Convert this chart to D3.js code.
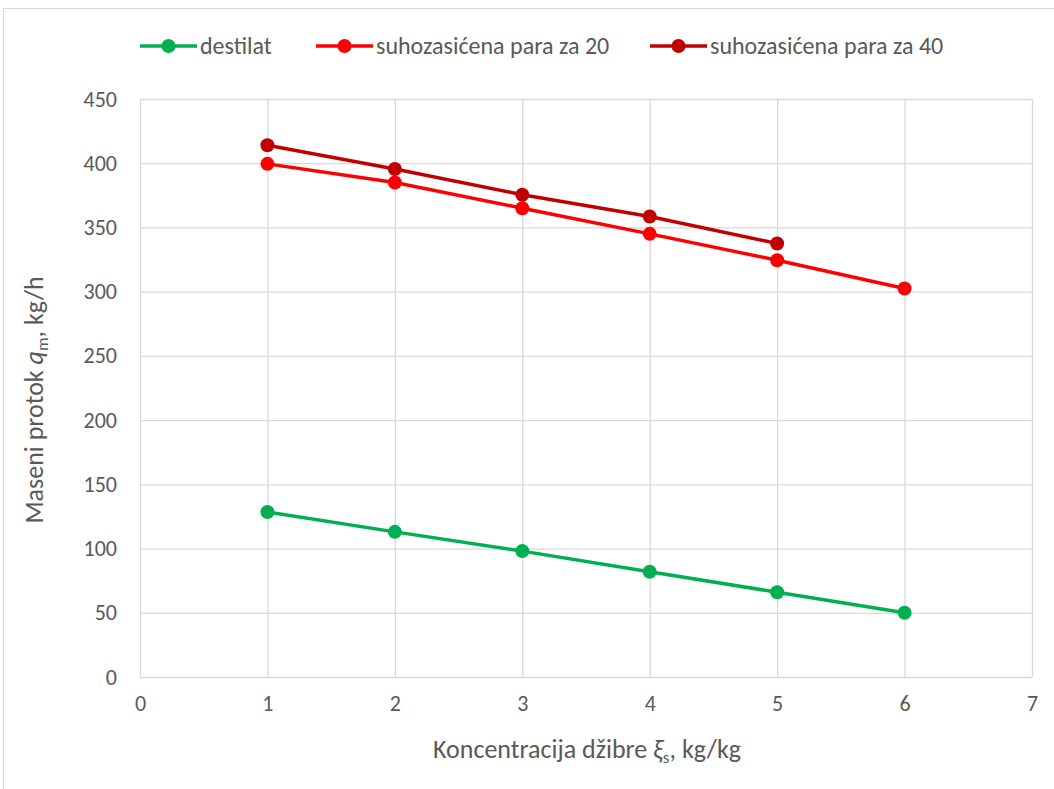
<!DOCTYPE html>
<html><head><meta charset="utf-8">
<script src="https://cdn.jsdelivr.net/npm/d3@7"></script>
<style>body{margin:0;background:#fff;} svg{display:block;font-family:Carlito,"Open Sans","Noto Sans",sans-serif;}</style>
</head><body>
<svg id="c" width="1054" height="789"></svg>
<script>
const xValues = [1, 2, 3, 4, 5, 6];
const destilat = [128.5, 113, 98, 82, 66, 50];
const para20 = [399.5, 385, 365, 345, 324.5, 302.5];
const para40 = [414, 395.5, 375.5, 358.5, 337.5];
const xTicks = [0, 1, 2, 3, 4, 5, 6, 7];
const yTicks = [0, 50, 100, 150, 200, 250, 300, 350, 400, 450];
const seriesNames = ["destilat", "suhozasićena para za 20", "suhozasićena para za 40"];
const seriesColors = ["#00B050", "#FF0000", "#C00000"];

(function(){
const svg = d3.select("#c");
const pLeft = 140, pRight = 1032, pTop = 99, pBottom = 677;
const x = d3.scaleLinear().domain([0, 7]).range([pLeft, pRight]);
const y = d3.scaleLinear().domain([0, 450]).range([pBottom, pTop]);
const textColor = "#595959";
const FONT = 'Carlito, "Open Sans", "Noto Sans", sans-serif';

svg.append("rect").attr("x", 3.5).attr("y", 8.5).attr("width", 1200).attr("height", 1000)
  .attr("fill", "none").attr("stroke", "#D9D9D9").attr("stroke-width", 1);

const gy = svg.append("g").attr("transform", `translate(${pLeft},0)`)
  .call(d3.axisLeft(y).tickValues(yTicks).tickSize(-(pRight-pLeft)).tickFormat(d => d))
  .attr("font-family", FONT).attr("font-size", 22);
gy.select(".domain").remove();
gy.selectAll(".tick line").attr("stroke", "#D9D9D9").attr("stroke-width", 1.3);
gy.selectAll(".tick text").attr("fill", textColor).attr("x", -23);

const gx = svg.append("g").attr("transform", `translate(0,${pBottom})`)
  .call(d3.axisBottom(x).tickValues(xTicks).tickSize(-(pBottom-pTop)).tickFormat(d => d))
  .attr("font-family", FONT).attr("font-size", 22);
gx.select(".domain").remove();
gx.selectAll(".tick line").attr("stroke", "#D9D9D9").attr("stroke-width", 1.3);
gx.selectAll(".tick text").attr("fill", textColor).attr("y", 18).attr("dy", "0.71em");

const data = [destilat, para20, para40];
data.forEach((vals, i) => {
  const pts = vals.map((v, j) => [xValues[j], v]);
  svg.append("path").datum(pts)
    .attr("fill", "none").attr("stroke", seriesColors[i]).attr("stroke-width", 3.5)
    .attr("d", d3.line().x(d => x(d[0])).y(d => y(d[1])));
  svg.append("g").selectAll("circle").data(pts).join("circle")
    .attr("cx", d => x(d[0])).attr("cy", d => y(d[1])).attr("r", 7)
    .attr("fill", seriesColors[i]);
});

const legendX = [140, 316, 650];
seriesNames.forEach((name, i) => {
  const g = svg.append("g").attr("transform", `translate(${legendX[i]},46)`);
  g.append("line").attr("x1", 0).attr("x2", 57).attr("stroke", seriesColors[i]).attr("stroke-width", 3.5);
  g.append("circle").attr("cx", 28.5).attr("r", 7).attr("fill", seriesColors[i]);
  g.append("text").attr("x", 60).attr("dy", "0.35em").attr("fill", textColor).attr("font-size", 24).text(name);
});

const yt = svg.append("text").attr("transform", "translate(43,400) rotate(-90)")
  .attr("text-anchor", "middle").attr("fill", textColor).attr("font-size", 26);
yt.append("tspan").text("Maseni protok ");
yt.append("tspan").attr("font-style", "italic").text("q");
yt.append("tspan").attr("font-size", 17).attr("dy", 5).text("m");
yt.append("tspan").attr("dy", -5).text(", kg/h");

const xt = svg.append("text").attr("x", 587).attr("y", 758)
  .attr("text-anchor", "middle").attr("fill", textColor).attr("font-size", 26);
xt.append("tspan").text("Koncentracija džibre ");
xt.append("tspan").attr("font-style", "italic").text("ξ");
xt.append("tspan").attr("font-size", 17).attr("dy", 5).text("s");
xt.append("tspan").attr("dy", -5).text(", kg/kg");
})();
</script>
</body></html>
